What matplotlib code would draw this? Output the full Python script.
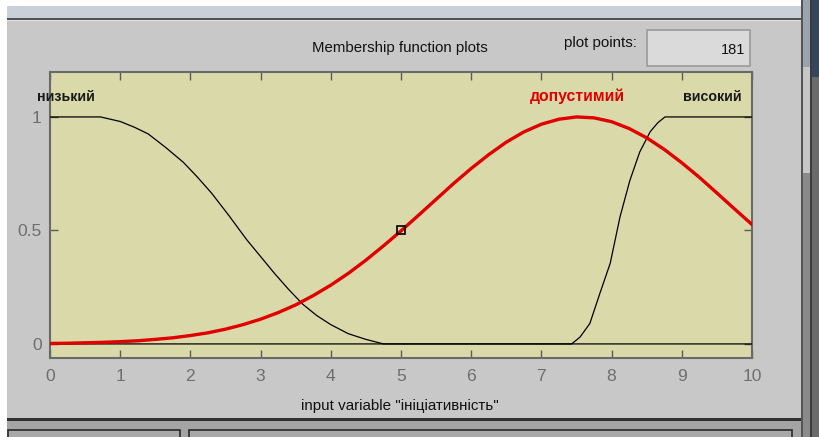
import matplotlib
matplotlib.use("Agg")
import matplotlib.pyplot as plt
from matplotlib.patches import Rectangle

# ---------------- data ----------------
low_x = [0, 0.72, 1.0, 1.2, 1.4, 1.65, 1.9, 2.1, 2.3, 2.55, 2.8, 3.0, 3.2, 3.4, 3.6, 3.8, 4.0, 4.25, 4.5, 4.75, 10]
low_y = [1, 1, 0.98, 0.955, 0.925, 0.865, 0.80, 0.735, 0.665, 0.565, 0.46, 0.385, 0.31, 0.24, 0.175, 0.125, 0.085, 0.045, 0.02, 0, 0]

mid_x = [0, 0.25, 0.5, 0.75, 1, 1.25, 1.5, 1.75, 2, 2.25, 2.5, 2.75, 3, 3.25, 3.5, 3.75, 4, 4.25, 4.5, 4.75,
         5, 5.25, 5.5, 5.75, 6, 6.25, 6.5, 6.75, 7, 7.25, 7.5, 7.75, 8, 8.25, 8.5, 8.75, 9, 9.25, 9.5, 9.75, 10]
mid_y = [0.002, 0.003, 0.005, 0.007, 0.010, 0.014, 0.020, 0.027, 0.037, 0.049, 0.065, 0.085, 0.109, 0.138, 0.172,
         0.213, 0.259, 0.311, 0.369, 0.432, 0.498, 0.567, 0.637, 0.707, 0.773, 0.834, 0.889, 0.934, 0.968, 0.990,
         1.000, 0.996, 0.979, 0.949, 0.908, 0.857, 0.798, 0.734, 0.665, 0.595, 0.526]

high_x = [0, 7.43, 7.55, 7.69, 7.83, 7.98, 8.12, 8.26, 8.40, 8.55, 8.66, 8.76, 10]
high_y = [0, 0, 0.03, 0.09, 0.22, 0.355, 0.56, 0.72, 0.845, 0.935, 0.975, 1, 1]

mf_names = ["низький", "допустимий", "високий"]
mf_label_x = [0.23, 7.51, 9.43]
mf_label_y = [1.09, 1.09, 1.09]
mf_label_colors = ["#1a1a1a", "#e00000", "#1a1a1a"]
mf_label_sizes = [10.3, 11.3, 10.3]

marker_x = [5]
marker_y = [0.5]

x_ticks = [0, 1, 2, 3, 4, 5, 6, 7, 8, 9, 10]
x_ticklabels = ["0", "1", "2", "3", "4", "5", "6", "7", "8", "9", "10"]
y_ticks = [0, 0.5, 1]
y_ticklabels = ["0", "0.5", "1"]

title_text = "Membership function plots"
xlabel_text = 'input variable "ініціативність"'
points_label = "plot points:"
points_value = "181"

# ---------------- figure ----------------
W, H = 820, 437
FONT = ["Liberation Sans", "DejaVu Sans"]
plt.rcParams["font.family"] = FONT

fig = plt.figure(figsize=(W / 100, H / 100), dpi=100)
fig.patch.set_facecolor("#c8c8c8")


def rect(x0, y0, x1, y1, fc, ec="none", lw=0):
    fig.add_artist(Rectangle((x0 / W, 1 - y1 / H), (x1 - x0) / W, (y1 - y0) / H,
                             transform=fig.transFigure, facecolor=fc, edgecolor=ec,
                             linewidth=lw, zorder=0))


# window decorations
rect(0, 0, 802, 6, "white")
rect(0, 0, 7, 437, "white")
rect(7, 6, 802, 18, "#c9d0d8")
rect(7, 18, 802, 20, "#505050")
rect(7, 20, 802, 21, "#e2e2e2")
# right-hand scroll bar
rect(801.5, 0, 803.5, 437, "#555555")
rect(803.5, 0, 810, 67, "#9aa4b0")
rect(803.5, 67, 810, 173, "#c6c6c6")
rect(803.5, 173, 810, 437, "#8a8a8a")
rect(810, 0, 812, 437, "#3c3c3c")
rect(812, 0, 820, 77, "#34465c")
rect(812, 77, 820, 437, "#6a6a6a")
# bottom panels
rect(7, 418, 801.5, 421, "#303030")
rect(7, 421, 801.5, 437, "#a4a4a4")
rect(8, 430, 180, 440, "#a8a8a8", ec="#2a2a2a", lw=1.2)
rect(189, 430, 792, 440, "#a8a8a8", ec="#2a2a2a", lw=1.2)
# plot points edit box
rect(647, 30, 750, 66, "#dadada", ec="#9a9a9a", lw=1.2)

# ---------------- axes ----------------
ax = fig.add_axes([50 / W, 1 - 358 / H, 702 / W, 286 / H])
ax.set_facecolor("#d9d9aa")
ax.set_xlim(0, 10)
ax.set_ylim(-0.062, 1.198)

ax.plot(low_x, low_y, color="black", lw=0.9, zorder=3)
ax.plot(high_x, high_y, color="black", lw=0.9, zorder=3)
ax.plot(mid_x, mid_y, color="#e00000", lw=2.4, zorder=4)
ax.plot(marker_x, marker_y, linestyle="none", marker="s", ms=6, mfc="none",
        mec="black", mew=1.2, zorder=5)

for name, lx, ly, c, fs in zip(mf_names, mf_label_x, mf_label_y, mf_label_colors, mf_label_sizes):
    ax.text(lx, ly, name, ha="center", va="center", fontsize=fs, fontweight="bold",
            color=c, clip_on=False)

ax.set_xticks(x_ticks)
ax.set_xticklabels(x_ticklabels)
ax.set_yticks(y_ticks)
ax.set_yticklabels(y_ticklabels)
ax.tick_params(direction="in", length=6, width=1, color="#5a5a5a", top=True, right=True,
               labelcolor="#6e6e6e", labelsize=12.6)
ax.tick_params(axis="x", pad=8)
ax.tick_params(axis="y", pad=6)
for s in ax.spines.values():
    s.set_color("#6a6a6a")
    s.set_linewidth(1.5)

# ---------------- texts ----------------
fig.text(400 / W, 1 - 48 / H, title_text, ha="center", va="center", fontsize=10.8, color="#111111")
fig.text(400 / W, 1 - 406 / H, xlabel_text, ha="center", va="center", fontsize=10.9, color="#111111")
fig.text(637 / W, 1 - 43 / H, points_label, ha="right", va="center", fontsize=10.8, color="#111111")
fig.text(745 / W, 1 - 50 / H, points_value, ha="right", va="center", fontsize=10.5, color="#111111")

fig.savefig("out.png", dpi=100, facecolor=fig.get_facecolor())
